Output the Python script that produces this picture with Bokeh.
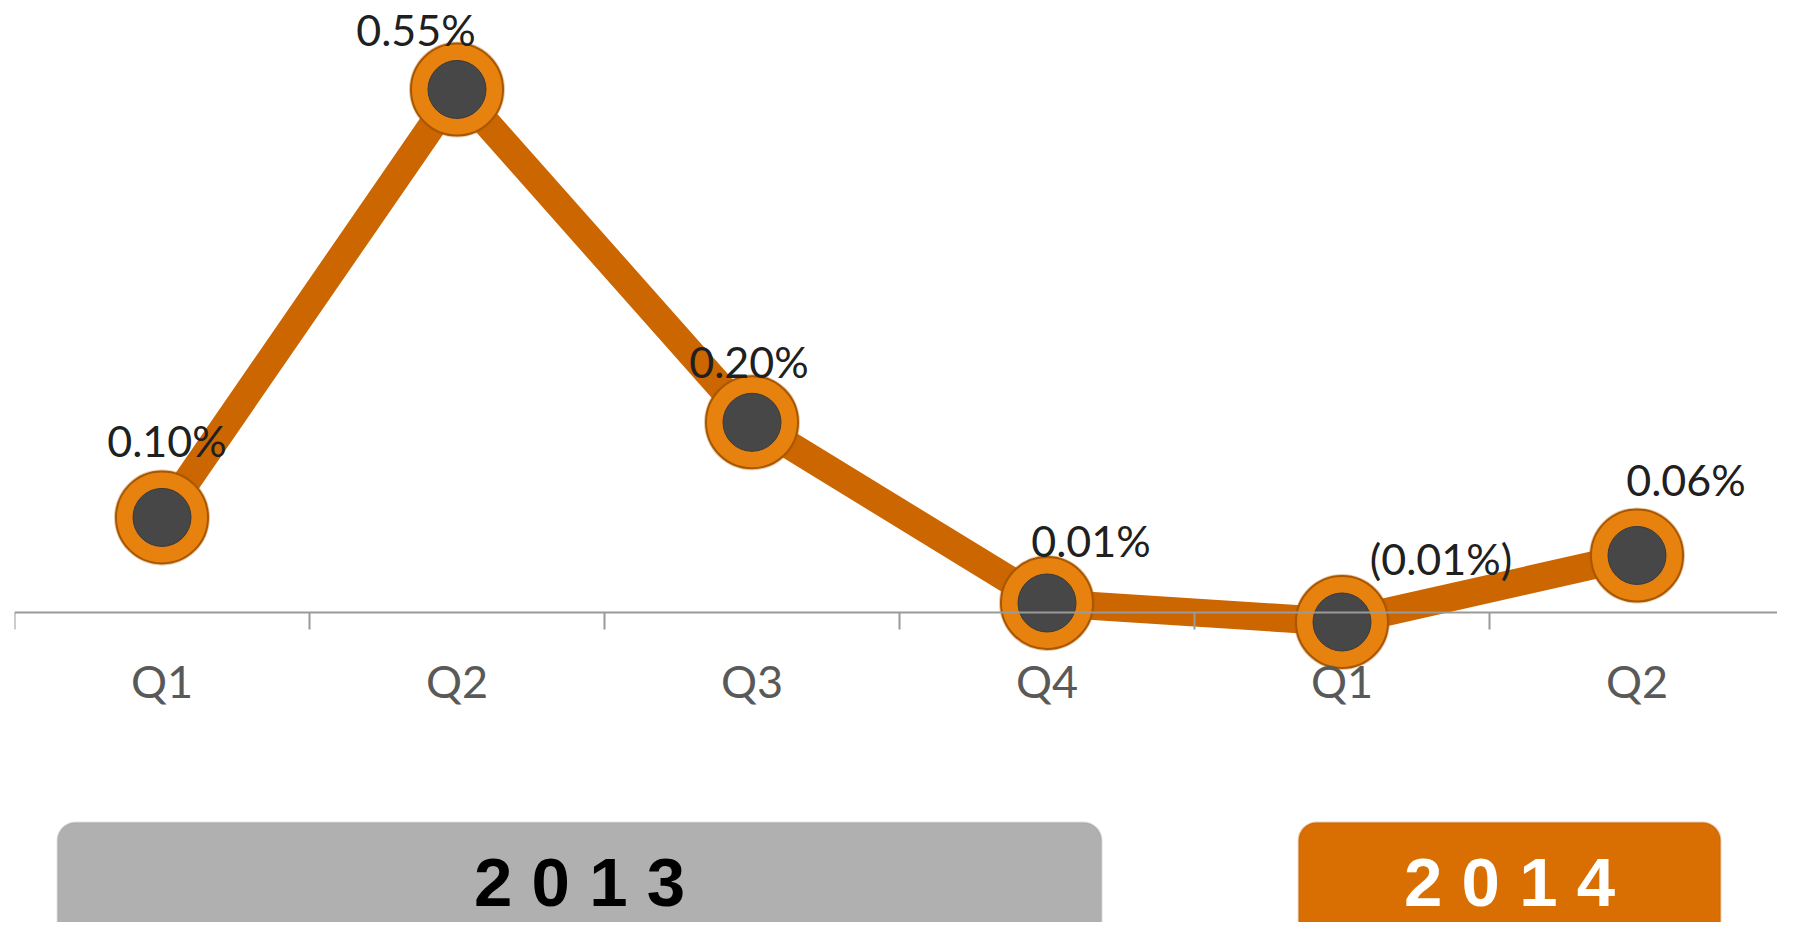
from bokeh.plotting import figure
from bokeh.models import (ColumnDataSource, Range1d, LinearAxis, FixedTicker,
                          BoxAnnotation, Label)
from bokeh.core.properties import value
from bokeh.embed import file_html
from bokeh.resources import INLINE

# ---- data ----
quarters = ["Q1", "Q2", "Q3", "Q4", "Q1", "Q2"]
values = [0.10, 0.55, 0.20, 0.01, -0.01, 0.06]   # percent
years = ["2013", "2014"]

# ---- styling / placement (screen offsets for data labels, px) ----
label_dx = [5, -41, -3, 44, 99, 49]
label_dy = [-77, -60, -61, -62, -64, -76]


def fmt(v):
    return f"({abs(v):.2f}%)" if v < 0 else f"{v:.2f}%"


xs = list(range(1, len(quarters) + 1))
src = ColumnDataSource(dict(x=xs, y=values,
                            label=[fmt(v) for v in values],
                            dx=label_dx, dy=label_dy))

W, H = 1777, 922
LEFT = 14
PX_PER_CAT = 295.0
ZERO_PX = 612.0
PX_PER_UNIT = 951.0

p = figure(width=W, height=H,
           x_range=Range1d(0.5, 0.5 + (W - LEFT) / PX_PER_CAT),
           y_range=Range1d((ZERO_PX - H) / PX_PER_UNIT, ZERO_PX / PX_PER_UNIT),
           x_axis_type=None, y_axis_type=None,
           output_backend="svg", toolbar_location=None,
           min_border_left=LEFT, min_border_right=0,
           min_border_top=0, min_border_bottom=0)
p.grid.visible = False
p.outline_line_color = None
p.background_fill_color = "white"

# category axis sitting at zero
axis = LinearAxis(fixed_location=0,
                  ticker=FixedTicker(ticks=xs,
                                     minor_ticks=[i + 0.5 for i in range(0, len(quarters) + 1)]),
                  major_label_overrides={x: q for x, q in zip(xs, quarters)})
axis.axis_line_color = "#9a9a9a"
axis.axis_line_width = 2
axis.major_tick_line_color = None
axis.major_tick_in = 0
axis.major_tick_out = 0
axis.minor_tick_line_color = "#9a9a9a"
axis.minor_tick_line_width = 2
axis.minor_tick_in = 0
axis.minor_tick_out = 17
axis.major_label_text_font = "Lato"
axis.major_label_text_font_size = "45px"
axis.major_label_text_color = "#595959"
axis.major_label_standoff = 24
p.add_layout(axis, "below")

# year boxes
b13 = (0.6458, 4.185)
b14 = (4.853, 6.283)
top_y = -0.2208
bot_y = -0.345
box13 = BoxAnnotation(left=b13[0], right=b13[1], top=top_y, bottom=bot_y,
                      fill_color="#B0B0B0", fill_alpha=1.0,
                      line_color="#9c9c9c", line_width=2, border_radius=18, level="underlay")
box14 = BoxAnnotation(left=b14[0], right=b14[1], top=top_y, bottom=bot_y,
                      fill_color="#D96E03", fill_alpha=1.0,
                      line_color="#B85C00", line_width=2, border_radius=18, level="underlay")
p.add_layout(box13)
p.add_layout(box14)

p.add_layout(Label(x=sum(b13) / 2, y=-0.2840, text=" ".join(years[0]),
                   text_font="Liberation Sans", text_font_style="bold",
                   text_font_size="69px", text_color="black",
                   text_align="center", text_baseline="middle"))
p.add_layout(Label(x=sum(b14) / 2, y=-0.2840, text=" ".join(years[1]),
                   text_font="Liberation Sans", text_font_style="bold",
                   text_font_size="69px", text_color="white",
                   text_align="center", text_baseline="middle"))

# line
p.line("x", "y", source=src, line_color="#CC6600", line_width=28, line_join="round")

# markers
p.scatter("x", "y", source=src, size=96, fill_color="#B86000", line_color=None, fill_alpha=0.35)
p.scatter("x", "y", source=src, size=92, fill_color="#E8820F", line_color="#A85600", line_width=2)
p.scatter("x", "y", source=src, size=58, fill_color="#474747", line_color="#3a3a3a", line_width=1)

# data labels
p.text("x", "y", text="label", source=src, x_offset="dx", y_offset="dy",
       text_font=value("Lato"), text_font_size="43px", text_color="#202020",
       text_align="center", text_baseline="middle")

open("out.html", "w").write(file_html(p, INLINE))
